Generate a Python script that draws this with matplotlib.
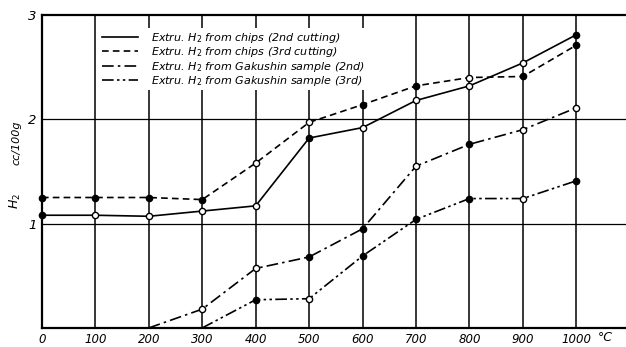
import matplotlib
matplotlib.use("Agg")
import matplotlib.pyplot as plt

# temperatures (deg C) and extracted H2 (cc/100g)
temps = [0, 100, 200, 300, 400, 500, 600, 700, 800, 900, 1000]
chips_2nd = [1.08, 1.08, 1.07, 1.12, 1.17, 1.82, 1.92, 2.18, 2.32, 2.54, 2.81]
chips_2nd_filled = [1, 0, 0, 0, 0, 1, 0, 0, 0, 0, 1]
chips_3rd = [1.25, 1.25, 1.25, 1.23, 1.58, 1.97, 2.14, 2.32, 2.40, 2.41, 2.71]
chips_3rd_filled = [1, 1, 1, 1, 0, 0, 1, 1, 0, 1, 1]

gak_2nd_temps = [200, 300, 400, 500, 600, 700, 800, 900, 1000]
gak_2nd = [0.0, 0.18, 0.57, 0.68, 0.95, 1.55, 1.76, 1.90, 2.11]
gak_2nd_filled = [-1, 0, 0, 1, 1, 0, 1, 0, 0]   # -1 = no marker
gak_3rd_temps = [300, 400, 500, 600, 700, 800, 900, 1000]
gak_3rd = [0.0, 0.27, 0.28, 0.69, 1.04, 1.24, 1.24, 1.41]
gak_3rd_filled = [-1, 1, 0, 1, 1, 1, 0, 1]

labels = ["Extru. H$_2$ from chips (2nd cutting)",
          "Extru. H$_2$ from chips (3rd cutting)",
          "Extru. H$_2$ from Gakushin sample (2nd)",
          "Extru. H$_2$ from Gakushin sample (3rd)"]
xticks = [0, 100, 200, 300, 400, 500, 600, 700, 800, 900, 1000]

fig = plt.figure(figsize=(6.26, 3.47), dpi=100)
ax = fig.add_axes([0.067, 0.055, 0.933, 0.902])

styles = ['-', (0, (4, 2.5)), (0, (7, 2.5, 1.5, 2.5)), (0, (7, 2, 1.5, 2, 1.5, 2))]
series = [(temps, chips_2nd, chips_2nd_filled),
          (temps, chips_3rd, chips_3rd_filled),
          (gak_2nd_temps, gak_2nd, gak_2nd_filled),
          (gak_3rd_temps, gak_3rd, gak_3rd_filled)]

for (xs, ys, fl), ls, lab in zip(series, styles, labels):
    ax.plot(xs, ys, color='black', linestyle=ls, linewidth=1.2, label=lab, zorder=3)
    for x, y, f in zip(xs, ys, fl):
        if f < 0:
            continue
        ax.plot(x, y, marker='o', markersize=4.5, markeredgecolor='black',
                markerfacecolor='black' if f else 'white', markeredgewidth=1.0,
                linestyle='none', zorder=4, clip_on=False)

# grid lines
for x in xticks[1:]:
    ax.axvline(x, color='black', linewidth=1.1, zorder=1)
for y in [1, 2]:
    ax.axhline(y, color='black', linewidth=0.9, zorder=1)

ax.set_xlim(0, 1093)
ax.set_ylim(0, 3)
ax.spines['right'].set_visible(False)
for s in ['left', 'bottom', 'top']:
    ax.spines[s].set_linewidth(1.6)

ax.set_xticks(xticks)
ax.set_xticklabels([str(t) for t in xticks], fontsize=8.5, style='italic')
ax.set_yticks([1, 2, 3])
ax.set_yticklabels(['1', '2', '3'], fontsize=9.5, style='italic')
ax.tick_params(length=0, pad=4)
ax.text(1055, -0.095, '°C', fontsize=9, style='italic', ha='center', va='center')

fig.text(0.025, 0.42, 'H$_2$', rotation=90, fontsize=9, style='italic', ha='center', va='center')
fig.text(0.027, 0.59, 'cc/100g', rotation=90, fontsize=8, style='italic', ha='center', va='center')

leg = ax.legend(loc='upper left', bbox_to_anchor=(0.09, 0.975), fontsize=8, handlelength=3.2,
                frameon=True, borderpad=0.2, labelspacing=0.05, handletextpad=1.2)
leg.get_frame().set_edgecolor('none')
leg.get_frame().set_facecolor('white')
leg.get_frame().set_alpha(1)
for t in leg.get_texts():
    t.set_style('italic')

plt.savefig("out.png", dpi=100)
